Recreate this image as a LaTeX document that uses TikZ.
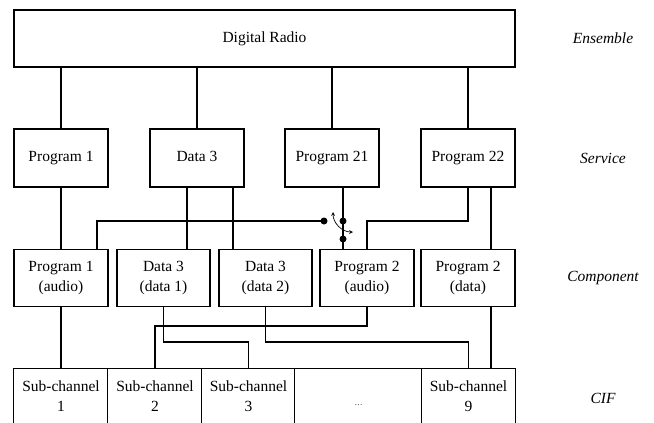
\documentclass[tikz,border=0pt]{standalone}
\usepackage{fontspec}
\setmainfont{Liberation Serif}
\usetikzlibrary{arrows,positioning,calc}

\newcommand{\diagfont}{\fontsize{15.5}{20}\selectfont}
\tikzset{
  unit/.style={draw, line width=1.3pt, minimum width=94pt, minimum height=58pt, inner sep=0pt, align=center},
  oneline/.style={text height=11pt, text depth=3.5pt},
  cell/.style={minimum height=54pt, inner sep=0pt, align=center},
  level/.style={font=\diagfont\itshape},
  wire/.style={line width=1.3pt},
  joint/.style={circle, fill, inner sep=0pt, minimum size=3pt},
  contact/.style={circle, fill, inner sep=0pt, minimum size=7pt},
}

\begin{document}
\begin{tikzpicture}[x=1pt, y=-1pt, font=\diagfont]
            \useasboundingbox (0,0) rectangle (654,423);

            % Ensemble
            \node[unit, oneline, minimum width=501pt, minimum height=57pt] (radio) at (264.5,38.5) {Digital Radio};
            \node[level] (ens) at (603,38) {Ensemble};

            % Services
            \node[unit, oneline] (prog1) at (61,158) {Program 1};
            \node[unit, oneline] (data3) at (197,158) {Data 3};
            \node[unit, oneline] (prog21) at (332,158) {Program 21};
            \node[unit, oneline] (prog22) at (468,158) {Program 22};
            \node[level] (serv) at (603,158) {Service};
            \foreach \s in {prog1,data3,prog21,prog22}
              \draw[wire] (\s.north) -- (radio.south -| \s.north);

            % Components
            \node[unit, minimum height=57pt] (prog1a) at (61,278) {Program 1\\(audio)};
            \node[unit, minimum height=57pt, minimum width=93pt] (data3a) at (163.5,278) {Data 3\\(data 1)};
            \node[unit, minimum height=57pt, minimum width=93pt] (data3b) at (265.5,278) {Data 3\\(data 2)};
            \node[unit, minimum height=57pt] (prog2a) at (367,278) {Program 2\\(audio)};
            \node[unit, minimum height=57pt] (prog2d) at (468,278) {Program 2\\(data)};
            \node[level] (comp) at (603,278) {Component};

            % Service to component
            \coordinate (busl) at (97,221);
            \coordinate (sw0) at (324,221);
            \draw[wire] (prog1) -- (prog1a);
            \draw[wire] (prog1a.north -| busl) -- (busl) -- (sw0);
            \draw[wire] ([xshift=-10pt]data3.south) coordinate (d1) -- (d1 |- data3a.north);
            \draw[wire] ([xshift=36pt]data3.south) coordinate (d2) -- (d2 |- data3b.north);
            \node[joint] (j1) at (d1 |- busl) {};
            \node[joint] (j2) at (d2 |- busl) {};
            \draw[wire] ([xshift=11pt]prog21.south) coordinate (p21) -- (p21 |- prog2a.north);
            \node[contact] (sw0dot) at (sw0) {};
            \node[contact] (sw1) at (p21 |- busl) {};
            \node[contact] (sw2) at ($(sw1)+(0,18)$) {};
            \coordinate (arcA) at (333,212);
            \coordinate (arcB) at (353,232);
            \draw[<->, >=stealth, line width=0.7pt] (arcA) .. controls (333,223) and (342,232) .. (arcB);
            \draw[wire] (prog22.south) -- (prog22.south |- busl) -| (prog2a.north);
            \draw[wire] ([xshift=23pt]prog22.south) coordinate (p22) -- (p22 |- prog2d.north);

            % CIF
            \node[cell, minimum width=94pt] (sc1) at (61,396) {Sub-channel\\1};
            \node[cell, minimum width=94pt] (sc2) at (155,396) {Sub-channel\\2};
            \node[cell, minimum width=93pt] (sc3) at (248.5,396) {Sub-channel\\3};
            \node[cell, minimum width=127pt] (gap) at (358.5,396) {\mbox{}\\{\footnotesize\dots}};
            \node[cell, minimum width=93pt] (sc9) at (468.5,396) {Sub-channel\\9};
            \node[level] (cif) at (603,398) {CIF};
            \draw[wire] (sc1.south west) |- (sc9.north east) -- (sc9.south east);
            \foreach \c in {sc2,sc3,gap,sc9}
              \draw[wire] (\c.north west) -- (\c.south west);

            % Component to CIF
            \coordinate (rowA) at (0,326);
            \coordinate (rowB) at (0,342);
            \draw[wire] (prog1a) -- (sc1);
            \draw[wire] (prog2a.south) |- (rowA -| sc2.north) -- (sc2.north);
            \draw[wire] (data3a.south) |- (rowB -| sc3.north) -- (sc3.north);
            \draw[wire] (data3b.south) |- (rowB -| sc9.north) -- (sc9.north);
            \draw[wire] ([xshift=23pt]prog2d.south) coordinate (p2d) -- (p2d |- sc9.north);
            \node[joint] (j3) at (data3a.south |- rowA) {};
            \node[joint] (j4) at (data3b.south |- rowA) {};
        \end{tikzpicture}
\end{document}
